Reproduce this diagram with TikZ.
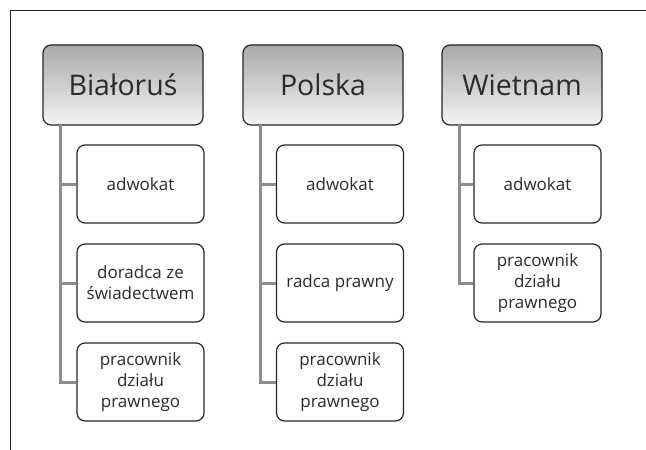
\documentclass[tikz,border=0pt]{standalone}
\usepackage{fontspec}
\setmainfont{Open Sans}
\definecolor{conngray}{HTML}{8C8C8C}
\definecolor{hdtop}{HTML}{A9A9A9}
\definecolor{hdbot}{HTML}{F4F4F4}
\definecolor{edge}{HTML}{262626}
\definecolor{txt}{HTML}{2B2B2B}
\begin{document}
\begin{tikzpicture}[x=1pt,y=-1pt,
  header/.style={draw=edge, line width=1.2pt, rounded corners=8pt,
    top color=hdtop, bottom color=hdbot, minimum width=160pt, minimum height=80pt,
    inner sep=0pt, font=\fontsize{28.5}{32}\selectfont, text=txt},
  child/.style={draw=edge, line width=1.2pt, rounded corners=8pt, fill=white,
    minimum width=127pt, minimum height=78pt, inner sep=0pt, align=center,
    font=\fontsize{17}{21}\selectfont, text=txt},
  conn/.style={draw=conngray, line width=3pt}]
\useasboundingbox (0,0) rectangle (646,450);
\draw[line width=1pt, edge] (10,450) -- (10,10) -- (646,10);

\node[header] (bel) at (123,85) {Białoruś};
\node[header] (pol) at (323,85) {Polska};
\node[header] (vie) at (522,85) {Wietnam};

\node[child] (b1) at (140.5,184) {adwokat};
\node[child] (b2) at (140.5,283) {doradca ze\\świadectwem};
\node[child] (b3) at (140.5,382) {pracownik\\działu\\prawnego};

\node[child] (p1) at (340,184) {adwokat};
\node[child] (p2) at (340,283) {radca prawny};
\node[child] (p3) at (340,382) {pracownik\\działu\\prawnego};

\node[child] (v1) at (537.5,184) {adwokat};
\node[child] (v2) at (537.5,283) {pracownik\\działu\\prawnego};

\foreach \h/\c in {bel/b1,bel/b2,bel/b3,pol/p1,pol/p2,pol/p3,vie/v1,vie/v2}{
  \draw[conn] ([xshift=18pt,yshift=0.6pt]\h.south west) |- (\c.west);
}
\end{tikzpicture}
\end{document}
